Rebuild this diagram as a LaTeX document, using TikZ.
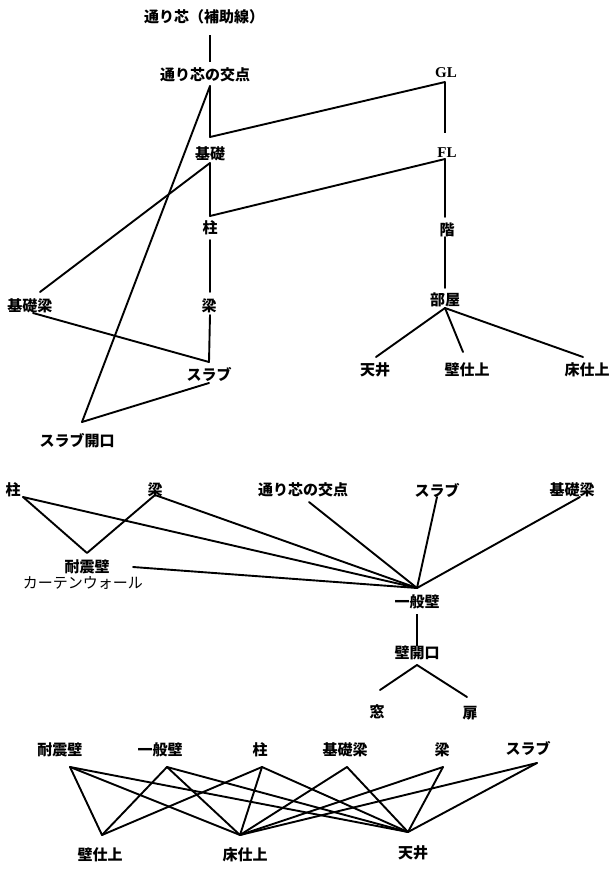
\documentclass[tikz,border=0pt]{standalone}
\usepackage{fontspec}
\newfontfamily\cjk{Noto Sans CJK JP}
\newfontfamily\lat{Liberation Serif}
\begin{document}
\begin{tikzpicture}[x=1pt,y=-1pt,
  lbl/.style={font=\cjk\bfseries\fontsize{15}{15}\selectfont, inner sep=0pt},
  lbll/.style={font=\cjk\fontsize{15}{15}\selectfont, inner sep=0pt},
  latl/.style={font=\lat\bfseries\fontsize{15}{15}\selectfont, inner sep=0pt},
  edge/.style={line width=1.9pt, line cap=round, line join=round},
  vedge/.style={line width=1.2pt}]
\useasboundingbox[fill=white] (0,0) rectangle (610,871);
% ---------- top section ----------
\node[lbl] (t1) at (204,17) {通り芯（補助線）};
\node[lbl] (t2) at (205,75) {通り芯の交点};
\node[lbl] (t3) at (210,154) {基礎};
\node[lbl] (t4) at (210,228) {柱};
\node[lbl] (t5) at (209,306) {梁};
\node[lbl] (t6) at (209,374) {スラブ};
\node[lbl] (t7) at (77,441) {スラブ開口};
\node[lbl] (t8) at (30,306) {基礎梁};
\node[latl] (t9) at (446,73) {GL};
\node[latl] (t10) at (447,153) {FL};
\node[lbl] (t11) at (447,230) {階};
\node[lbl] (t12) at (445,300) {部屋};
\node[lbl] (t13) at (375,370) {天井};
\node[lbl] (t14) at (467,370) {壁仕上};
\node[lbl] (t15) at (587,370) {床仕上};

\draw[vedge] ([xshift=6pt,yshift=-18pt]t1.center) -- ([xshift=5pt,yshift=13pt]t2.center);
\draw[edge] ([xshift=5pt,yshift=-11pt]t2.center) -- ([yshift=17pt]t3.center) -- ([xshift=-1pt,yshift=-9pt]t9.center);
\draw[edge] ([xshift=5pt,yshift=-11pt]t2.center) -- ([xshift=5pt,yshift=19pt]t7.center);
\draw[edge] ([yshift=-9pt]t3.center) -- ([yshift=12pt]t4.center) -- ([xshift=-2pt,yshift=-6pt]t10.center);
\draw[edge] ([yshift=-9pt]t3.center) -- ([xshift=10pt,yshift=14pt]t8.center);
\draw[edge] ([yshift=-12pt]t4.center) -- ([xshift=1pt,yshift=14pt]t5.center);
\draw[edge] ([xshift=1pt,yshift=-9pt]t5.center) -- ([yshift=12pt]t6.center) -- ([xshift=3pt,yshift=-7pt]t8.center);
\draw[edge] ([yshift=-9pt]t6.center) -- ([xshift=5pt,yshift=19pt]t7.center);
\draw[vedge] ([xshift=-1pt,yshift=-9pt]t9.center) -- ([xshift=-2pt,yshift=20pt]t10.center);
\draw[edge] ([xshift=-2pt,yshift=-6pt]t10.center) -- ([xshift=-2pt,yshift=13pt]t11.center);
\draw[edge] ([xshift=-2pt,yshift=-7pt]t11.center) -- ([yshift=12pt]t12.center);
\draw[edge] ([yshift=-8pt]t12.center) -- ([xshift=1pt,yshift=13pt]t13.center);
\draw[edge] ([yshift=-8pt]t12.center) -- ([xshift=-4pt,yshift=18pt]t14.center);
\draw[edge] ([yshift=-8pt]t12.center) -- ([xshift=-4pt,yshift=13pt]t15.center);

% ---------- middle section ----------
\node[lbl] (m1) at (13,490) {柱};
\node[lbl] (m2) at (155,490) {梁};
\node[lbl] (m3) at (303,490) {通り芯の交点};
\node[lbl] (m4) at (437,490) {スラブ};
\node[lbl] (m5) at (572,490) {基礎梁};
\node[lbl] (m6) at (87,567) {耐震壁};
\node[lbll] (m6b) at (83,583) {カーテンウォール};
\node[lbl] (m7) at (417,602) {一般壁};
\node[lbl] (m8) at (417,653) {壁開口};
\node[lbl] (m9) at (377,712) {窓};
\node[lbl] (m10) at (470,713) {扉};

\draw[edge] ([xshift=10pt,yshift=-7pt]m1.center) -- ([yshift=14pt]m6.center) -- ([yshift=-5pt]m2.center) -- ([yshift=14pt]m7.center);
\draw[edge] ([xshift=10pt,yshift=-7pt]m1.center) -- ([yshift=14pt]m7.center);
\draw[edge] ([xshift=6pt,yshift=-12pt]m3.center) -- ([yshift=14pt]m7.center);
\draw[edge] ([yshift=-7pt]m4.center) -- ([yshift=14pt]m7.center);
\draw[edge] ([xshift=8pt,yshift=-7pt]m5.center) -- ([yshift=14pt]m7.center);
\draw[edge] ([xshift=46pt]m6.center) -- ([yshift=14pt]m7.center);
\draw[vedge] ([yshift=-12pt]m7.center) -- ([yshift=7pt]m8.center);
\draw[edge] ([xshift=3pt,yshift=22pt]m9.center) -- ([yshift=-12pt]m8.center) -- ([xshift=-3pt,yshift=16pt]m10.center);

% ---------- bottom section ----------
\node[lbl] (b1) at (60,750) {耐震壁};
\node[lbl] (b2) at (160,750) {一般壁};
\node[lbl] (b3) at (260,750) {柱};
\node[lbl] (b4) at (345,750) {基礎梁};
\node[lbl] (b5) at (442,750) {梁};
\node[lbl] (b6) at (528,748) {スラブ};
\node[lbl] (b7) at (100,855) {壁仕上};
\node[lbl] (b8) at (245,855) {床仕上};
\node[lbl] (b9) at (413,853) {天井};

\foreach \s/\dx/\dy in {b1/10/17, b2/7/17, b3/2/17}{
  \draw[edge] ([xshift=\dx pt,yshift=-\dy pt]\s.center) -- ([xshift=2pt,yshift=20pt]b7.center);
}
\foreach \s/\dx/\dy in {b1/10/17, b2/7/17, b3/2/17, b4/2/17, b5/1/17, b6/9/15}{
  \draw[edge] ([xshift=\dx pt,yshift=-\dy pt]\s.center) -- ([xshift=-5pt,yshift=20pt]b8.center);
  \draw[edge] ([xshift=\dx pt,yshift=-\dy pt]\s.center) -- ([xshift=-5pt,yshift=21pt]b9.center);
}
\end{tikzpicture}
\end{document}
